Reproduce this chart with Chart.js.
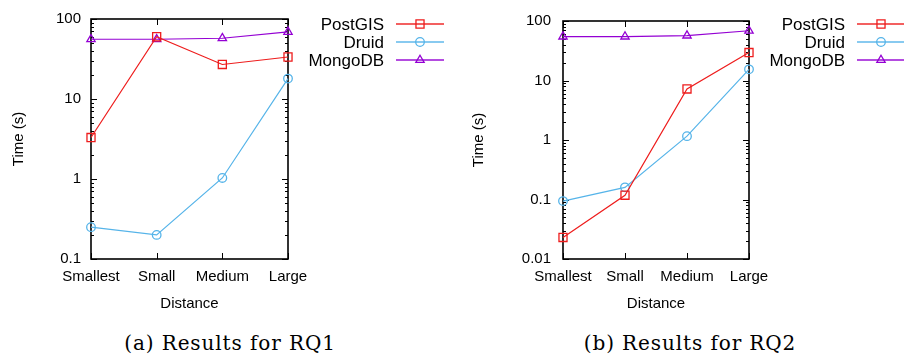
<!DOCTYPE html>
<html>
<head>
<meta charset="utf-8">
<script src="https://cdn.jsdelivr.net/npm/chart.js@4.4.1/dist/chart.umd.min.js"></script>
<style>
  body { margin: 0; background: #fff; width: 904px; height: 358px; position: relative; overflow: hidden; }
  canvas { position: absolute; top: 0; }
  #chartA { left: 0; }
  #chartB { left: 460px; }
  .caption {
    position: absolute; top: 331px; width: 300px; text-align: center;
    font-family: "DejaVu Serif", serif; font-size: 20px; letter-spacing: 0.9px; color: #000;
  }
</style>
</head>
<body>
<canvas id="chartA" width="450" height="320"></canvas>
<canvas id="chartB" width="444" height="320"></canvas>
<div class="caption" style="left:80px">(a) Results for RQ1</div>
<div class="caption" style="left:540px">(b) Results for RQ2</div>
<script>
const distances = ["Smallest", "Small", "Medium", "Large"];

// RQ1 times (s)
const rq1PostGIS = [3.3, 60, 27, 33.5];
const rq1Druid = [0.25, 0.2, 1.03, 18];
const rq1MongoDB = [55.8, 55.8, 57.5, 69];

// RQ2 times (s)
const rq2PostGIS = [0.023, 0.118, 7.2, 29.5];
const rq2Druid = [0.094, 0.16, 1.16, 15.4];
const rq2MongoDB = [54.7, 54.7, 56.8, 68.5];

const rq1Ticks = [0.1, 1, 10, 100];
const rq2Ticks = [0.01, 0.1, 1, 10, 100];

const seriesNames = ["PostGIS", "Druid", "MongoDB"];
const seriesColors = ["#ee1c1c", "#56b4e9", "#9400d3"];
const seriesPoints = ["rect", "circle", "triangle"];
const pointSizes = [5.7, 4.3, 4.8];

const FONT = "'Liberation Sans', Arial, sans-serif";

// gnuplot style frame, inward ticks and the key
const framePlugin = {
  id: "frame",
  beforeDatasetsDraw(chart) {
    const { ctx, chartArea: a } = chart;
    const y = chart.scales.y;
    const x = chart.scales.x;
    ctx.save();
    ctx.strokeStyle = "#000";
    ctx.lineWidth = 1;
    ctx.beginPath();
    const lo = Math.round(Math.log10(y.min));
    const hi = Math.round(Math.log10(y.max));
    for (let d = lo; d < hi; d++) {
      for (let k = 2; k <= 9; k++) {
        const py = Math.round(y.getPixelForValue(k * Math.pow(10, d))) + 0.5;
        ctx.moveTo(a.left, py); ctx.lineTo(a.left + 3, py);
        ctx.moveTo(a.right, py); ctx.lineTo(a.right - 3, py);
      }
    }
    for (let d = lo; d <= hi; d++) {
      const py = Math.round(y.getPixelForValue(Math.pow(10, d))) + 0.5;
      ctx.moveTo(a.left, py); ctx.lineTo(a.left + 6, py);
      ctx.moveTo(a.right, py); ctx.lineTo(a.right - 6, py);
    }
    distances.forEach((_, i) => {
      const px = Math.round(x.getPixelForValue(i)) + 0.5;
      ctx.moveTo(px, a.bottom); ctx.lineTo(px, a.bottom - 6);
      ctx.moveTo(px, a.top); ctx.lineTo(px, a.top + 6);
    });
    ctx.stroke();
    ctx.lineWidth = 1.6;
    ctx.strokeRect(a.left, a.top, a.right - a.left, a.bottom - a.top);
    ctx.restore();
  },
  afterDraw(chart) {
    const { ctx, chartArea: a } = chart;
    ctx.save();
    ctx.font = "17px " + FONT;
    ctx.textAlign = "right";
    ctx.textBaseline = "middle";
    chart.data.datasets.forEach((ds, i) => {
      const ly = 24 + i * 18;
      ctx.fillStyle = "#000";
      ctx.fillText(ds.label, a.right + 96, ly + 1);
      ctx.strokeStyle = ds.borderColor;
      ctx.globalAlpha = 0.7;
      ctx.lineWidth = 2;
      ctx.beginPath();
      ctx.moveTo(a.right + 108, ly); ctx.lineTo(a.right + 156, ly);
      ctx.stroke();
      ctx.globalAlpha = 1;
      ctx.lineWidth = 1.3;
      ctx.fillStyle = "rgba(0,0,0,0)";
      Chart.helpers.drawPoint(ctx, { pointStyle: ds.pointStyle, radius: ds.pointRadius, rotation: 0, borderWidth: 1.3 }, a.right + 132, ly);
    });
    ctx.restore();
  }
};

function makeChart(id, values, minY, maxY, majors, yWidth, rightPad, tickPad) {
  new Chart(document.getElementById(id), {
    type: "line",
    data: {
      labels: distances,
      datasets: values.map((v, i) => ({
        label: seriesNames[i],
        data: v,
        borderColor: seriesColors[i],
        backgroundColor: "rgba(0,0,0,0)",
        borderWidth: 1.2,
        pointStyle: seriesPoints[i],
        pointRadius: pointSizes[i],
        pointBorderWidth: 1.3,
        pointBackgroundColor: "rgba(0,0,0,0)",
        tension: 0,
      })),
    },
    options: {
      responsive: false,
      animation: false,
      devicePixelRatio: 1,
      layout: { padding: { top: 15, right: rightPad, left: 0, bottom: 0 } },
      plugins: { legend: { display: false }, tooltip: { enabled: false } },
      scales: {
        x: {
          type: "category",
          offset: false,
          grid: { display: false, drawTicks: false },
          border: { display: false },
          ticks: { color: "#000", font: { family: FONT, size: 15 }, padding: 9, maxRotation: 0, autoSkip: false },
          title: { display: true, text: "Distance", color: "#000", font: { family: FONT, size: 15 }, padding: { top: 7, bottom: 7 } },
          afterFit(scale) { scale.height = 61; },
        },
        y: {
          type: "logarithmic",
          min: minY,
          max: maxY,
          grid: { display: false, drawTicks: false },
          border: { display: false },
          afterBuildTicks(scale) { scale.ticks = majors.map(v => ({ value: v, major: true })); },
          ticks: { color: "#000", font: { family: FONT, size: 15 }, padding: tickPad, callback: v => String(v) },
          title: { display: true, text: "Time (s)", color: "#000", font: { family: FONT, size: 15 }, padding: { top: 10, bottom: 10 } },
          afterFit(scale) { scale.width = yWidth; },
        },
      },
    },
    plugins: [framePlugin],
  });
}

makeChart("chartA", [rq1PostGIS, rq1Druid, rq1MongoDB], 0.1, 100, rq1Ticks, 91, 162, 10);
makeChart("chartB", [rq2PostGIS, rq2Druid, rq2MongoDB], 0.01, 100, rq2Ticks, 103, 155, 12);
</script>
</body>
</html>
